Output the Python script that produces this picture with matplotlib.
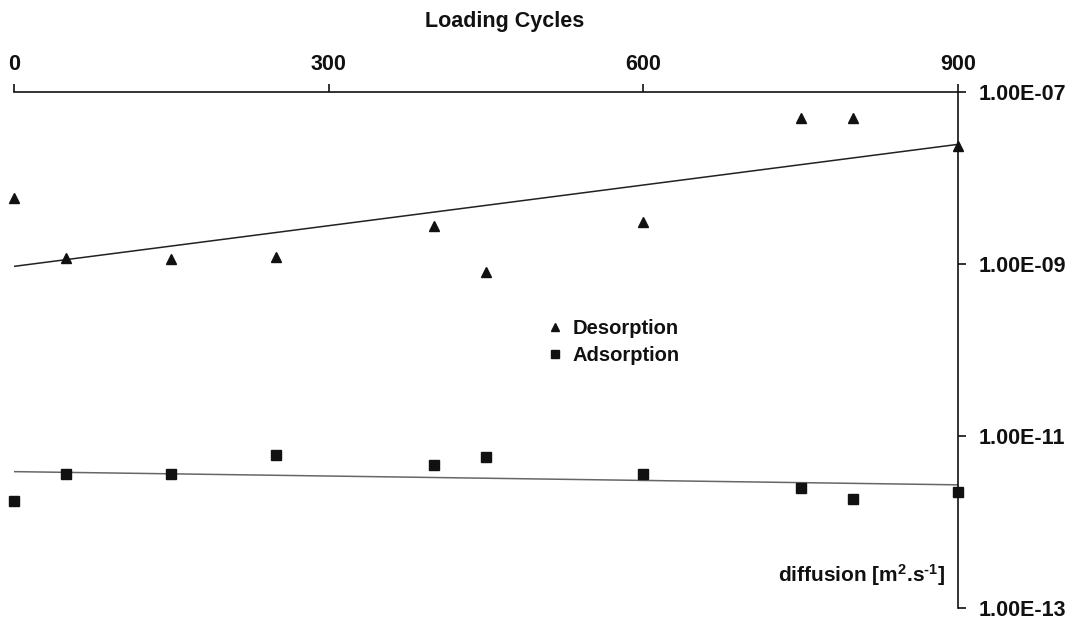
import numpy as np
import matplotlib
matplotlib.use("Agg")
import matplotlib.pyplot as plt
from matplotlib.ticker import FixedLocator, FuncFormatter

# Diffusion coefficients [m^2/s] measured over loading cycles
cycles = [0, 50, 150, 250, 400, 450, 600, 750, 800, 900]
desorption = [5.85e-9, 1.17e-9, 1.14e-9, 1.20e-9, 2.77e-9, 8.1e-10, 3.08e-9, 5.0e-8, 5.0e-8, 2.36e-8]
adsorption = [1.75e-12, 3.6e-12, 3.6e-12, 6.0e-12, 4.55e-12, 5.7e-12, 3.6e-12, 2.48e-12, 1.87e-12, 2.21e-12]

x_ticks = [0, 300, 600, 900]
y_ticks = [1e-13, 1e-11, 1e-9, 1e-7]

plt.rcParams["font.family"] = ["Liberation Sans", "DejaVu Sans"]
plt.rcParams["font.weight"] = "bold"
plt.rcParams["mathtext.fontset"] = "custom"
plt.rcParams["mathtext.rm"] = "Liberation Sans:bold"
plt.rcParams["mathtext.it"] = "Liberation Sans:bold"
plt.rcParams["mathtext.bf"] = "Liberation Sans:bold"

W, H = 1078, 621
fig = plt.figure(figsize=(W / 100, H / 100), dpi=100)
ax = fig.add_axes([14 / W, 1 - 608 / H, (958 - 14) / W, (608 - 92) / H])

ink = "#111111"
x = np.array(cycles, dtype=float)

# exponential trend lines (straight on the log axis)
xs = np.array([0.0, 900.0])
for vals, col in ((desorption, "#222222"), (adsorption, "#666666")):
    b, a = np.polyfit(x, np.log10(vals), 1)
    ax.plot(xs, 10 ** (a + b * xs), color=col, lw=1.1, zorder=2)

ax.plot(cycles, desorption, ls="none", marker="^", ms=7.5, color=ink,
        label="Desorption", zorder=3, clip_on=False)
ax.plot(cycles, adsorption, ls="none", marker="s", ms=7, color=ink,
        label="Adsorption", zorder=3, clip_on=False)

ax.set_yscale("log")
ax.set_xlim(0, 900)
ax.set_ylim(1e-13, 1e-7)

for s in ("left", "bottom"):
    ax.spines[s].set_visible(False)
for s in ("top", "right"):
    ax.spines[s].set_linewidth(1.2)
    ax.spines[s].set_color(ink)

ax.xaxis.set_ticks_position("top")
ax.xaxis.set_label_position("top")
ax.yaxis.set_ticks_position("right")
ax.xaxis.set_major_locator(FixedLocator(x_ticks))
ax.yaxis.set_major_locator(FixedLocator(y_ticks))
ax.yaxis.set_minor_locator(FixedLocator([]))
ax.yaxis.set_major_formatter(FuncFormatter(lambda v, p: "{:.2E}".format(v)))
ax.tick_params(axis="x", direction="out", length=6, width=1.2, pad=6,
               labelsize=15.5, colors=ink)
ax.tick_params(axis="y", direction="out", length=6, width=1.2, pad=9,
               labelsize=15.5, colors=ink)
for lab in ax.get_xticklabels() + ax.get_yticklabels():
    lab.set_fontweight("bold")

fig.text(505 / W, 1 - 22 / H, "Loading Cycles", ha="center", va="center",
         fontsize=15.5, fontweight="bold", color=ink)
fig.text(945 / W, 1 - 575 / H, r"diffusion [m$^{2}$.s$^{\text{-1}}$]",
         ha="right", va="center", fontsize=15, fontweight="bold", color=ink)

leg = fig.legend(loc="upper left", bbox_to_anchor=(549 / W, 1 - 319 / H),
                 frameon=False, fontsize=14.5, handlelength=0.6,
                 handletextpad=0.55, labelspacing=0.42, borderpad=0,
                 borderaxespad=0, markerscale=0.8)
for t in leg.get_texts():
    t.set_fontweight("bold")
    t.set_color(ink)

fig.savefig("out.png", dpi=100)
